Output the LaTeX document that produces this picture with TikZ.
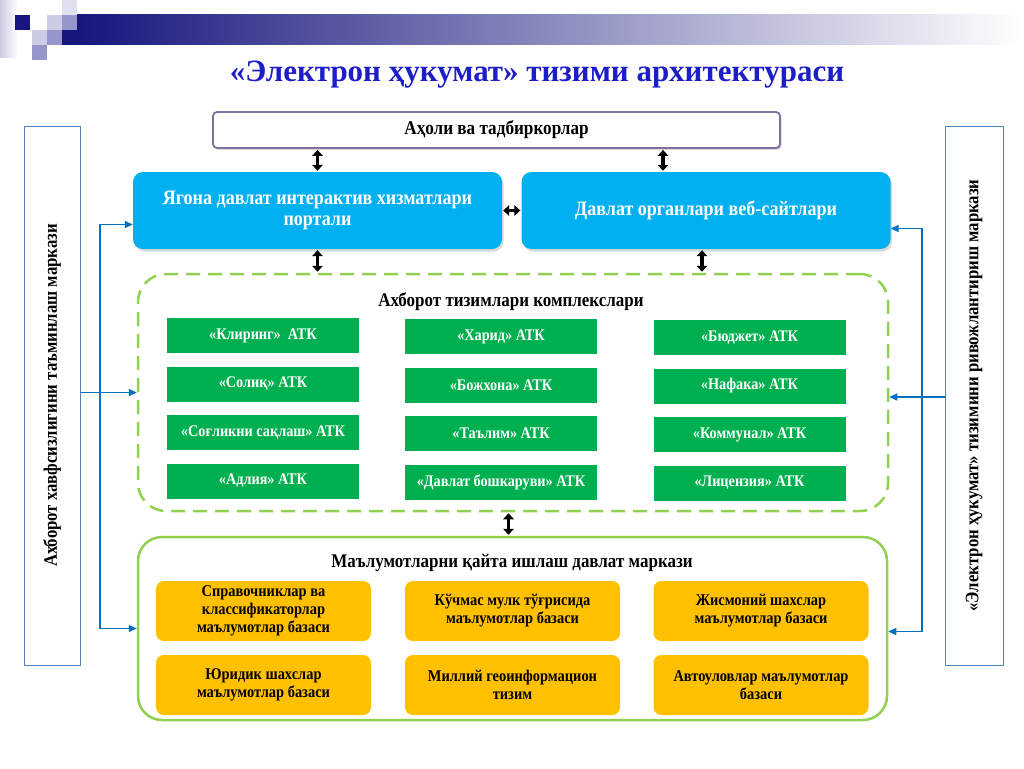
\documentclass[tikz,border=0pt]{standalone}
\usepackage{fontspec}
\setmainfont{Liberation Serif}
\newfontfamily\narrowserif[FakeStretch=0.88]{Liberation Serif}
\usepackage{graphicx}
\usetikzlibrary{arrows.meta,shadows,positioning,calc}
\definecolor{titleblue}{RGB}{30,30,200}
\definecolor{navy}{RGB}{22,22,125}
\definecolor{lavlight}{RGB}{204,204,230}
\definecolor{lavmid}{RGB}{150,150,204}
\definecolor{skyblue}{RGB}{0,176,240}
\definecolor{atkgreen}{RGB}{0,176,80}
\definecolor{limegreen}{RGB}{146,208,80}
\definecolor{amber}{RGB}{255,192,0}
\definecolor{linkblue}{RGB}{0,112,192}
\definecolor{sideblue}{RGB}{79,129,189}
\definecolor{framelav}{RGB}{128,112,160}
\tikzstyle{peoplebox}=[draw=framelav,line width=1.8pt,fill=white,rounded corners=4pt,minimum width=567pt,minimum height=36pt,font=\narrowserif\bfseries\fontsize{19.5}{21}\selectfont,drop shadow={shadow xshift=1.5pt,shadow yshift=-2pt,opacity=0.3}]
\tikzstyle{portalbox}=[fill=skyblue,rounded corners=10pt,minimum width=369pt,minimum height=77pt,text=white,align=center,font=\narrowserif\bfseries\fontsize{20.5}{21.5}\selectfont,drop shadow={shadow xshift=1.5pt,shadow yshift=-2.5pt,opacity=0.3}]
\tikzstyle{complexbox}=[draw=limegreen,line width=2.5pt,dash pattern=on 14pt off 8pt,rounded corners=28pt,minimum width=750pt,minimum height=237pt]
\tikzstyle{databox}=[draw=limegreen,line width=2.5pt,rounded corners=24pt,minimum width=749pt,minimum height=183pt]
\tikzstyle{grouptitle}=[font=\narrowserif\bfseries\fontsize{19.3}{21}\selectfont]
\tikzstyle{atk}=[fill=atkgreen,minimum width=192pt,minimum height=35pt,inner sep=2pt,text=white,font=\narrowserif\bfseries\fontsize{16.2}{18}\selectfont]
\tikzstyle{base}=[fill=amber,rounded corners=8pt,minimum width=215pt,minimum height=60pt,inner sep=1pt,align=center,font=\narrowserif\bfseries\fontsize{16.4}{18}\selectfont]
\tikzstyle{sidebox}=[draw=sideblue,line width=1pt,fill=white,minimum height=539pt,font=\narrowserif\bfseries\fontsize{19}{21}\selectfont]
\tikzstyle{bigarrow}=[line width=3.6pt,{Triangle[width=10.5pt,length=6pt]}-{Triangle[width=10.5pt,length=6pt]},shorten >=1pt,shorten <=1pt]
\tikzstyle{link}=[draw=linkblue,line width=1.4pt,-{Triangle[width=7pt,length=8pt]}]
\begin{document}
\begin{tikzpicture}[x=1pt,y=-1pt]
\useasboundingbox (0,0) rectangle (1024,768);
% logo squares and header bar
\shade[left color=lavlight,right color=white] (0,0) rectangle (18,58);
\fill[navy] (15,15) rectangle (30,30);
\fill[lavlight!60] (62,0) rectangle (77,15);
\fill[lavlight] (47,15) rectangle (62,30);
\fill[lavmid] (62,15) rectangle (77,30);
\fill[lavlight] (32,30) rectangle (47,45);
\fill[lavmid] (47,30) rectangle (62,45);
\fill[lavmid] (32,45) rectangle (47,60);
\fill[navy] (62,30) rectangle (77,45);
\shade[left color=navy,middle color={rgb,255:red,165;green,165;blue,192},right color=white] (77,15) rectangle (1024,45);
\node[text=titleblue,font=\bfseries\fontsize{31}{34}\selectfont] (title) at (537,75) {«Электрон ҳукумат» тизими архитектураси};
% top level
\node[peoplebox] (aholi) at (496.5,130) {Аҳоли ва тадбиркорлар};
\node[portalbox] (portal) at (317.5,210.5) {Ягона давлат интерактив хизматлари\\портали};
\node[portalbox] (websites) at (706,210.5) {Давлат органлари веб-сайтлари};
% side centres
\node[sidebox,minimum width=56pt] (secleft) at (52,395.5) {\rotatebox{90}{Ахборот хавфсизлигини таъминлаш маркази}};
\node[sidebox,minimum width=58pt] (secright) at (974,395.5) {\rotatebox{90}{«Электрон ҳукумат» тизимини ривожлантириш маркази}};
% information systems
\node[complexbox] (complex) at (513,392.5) {};
\node[grouptitle] (complextitle) at (511,302) {Ахборот тизимлари комплекслари};
\path (263,335.5) node[atk] (kliring) {«Клиринг»\ \ АТК}
    ++ (0,48.5) node[atk] (solik) {«Солиқ» АТК}
    ++ (0,48.5) node[atk] (soglik) {«Соғликни сақлаш» АТК}
    ++ (0,48.5) node[atk] (adliya) {«Адлия» АТК};
\path (501,336.5) node[atk] (xarid) {«Харид» АТК}
    ++ (0,48.5) node[atk] (bojxona) {«Божхона» АТК}
    ++ (0,48.5) node[atk] (talim) {«Таълим» АТК}
    ++ (0,48.5) node[atk] (boshqaruv) {«Давлат бошкаруви» АТК};
\path (749.5,337.5) node[atk] (budjet) {«Бюджет» АТК}
    ++ (0,48.5) node[atk] (nafaka) {«Нафака» АТК}
    ++ (0,48.5) node[atk] (kommunal) {«Коммунал» АТК}
    ++ (0,48.5) node[atk] (litsenziya) {«Лицензия» АТК};
% data processing centre
\node[databox] (data) at (512.5,628.5) {};
\node[grouptitle] (datatitle) at (512,563) {Маълумотларни қайта ишлаш давлат маркази};
\path (263.5,611) node[base] (sprav) {Справочниклар ва\\классификаторлар\\маълумотлар базаси}
    ++ (0,74) node[base] (yuridik) {Юридик шахслар\\маълумотлар базаси};
\path (512.5,611) node[base] (kuchmas) {Кўчмас мулк тўғрисида\\маълумотлар базаси}
    ++ (0,74) node[base] (geo) {Миллий геоинформацион\\тизим};
\path (761,611) node[base] (jismoniy) {Жисмоний шахслар\\маълумотлар базаси}
    ++ (0,74) node[base] (avto) {Автоуловлар маълумотлар\\базаси};
% black double arrows
\draw[bigarrow] (portal.north |- aholi.south) -- (portal.north);
\draw[bigarrow] ([xshift=-43pt]websites.north |- aholi.south) -- ([xshift=-43pt]websites.north);
\draw[bigarrow] (portal.east) -- (websites.west);
\draw[bigarrow] (portal.south) -- (portal.south |- complex.north);
\draw[bigarrow] ([xshift=-4pt]websites.south) -- ([xshift=-4pt]websites.south |- complex.north);
\draw[bigarrow] ([xshift=-4.5pt]complex.south) -- ([xshift=-4.5pt]complex.south |- data.north);
% blue links from side centres
\coordinate (ltrunk) at (100,392.5);
\draw[link] (secleft.east |- complex.west) -- (complex.west);
\draw[link] (ltrunk) |- ([yshift=-14pt]portal.west);
\draw[link] (ltrunk) |- (data.west);
\coordinate (rtrunk) at (922,397);
\draw[link] ([yshift=-1.5pt]secright.west) -- ([yshift=-4.5pt]complex.east);
\draw[link] (rtrunk) |- ([yshift=-18pt]websites.east);
\draw[link] (rtrunk) |- ([yshift=-3pt]data.east);
\end{tikzpicture}
\end{document}
